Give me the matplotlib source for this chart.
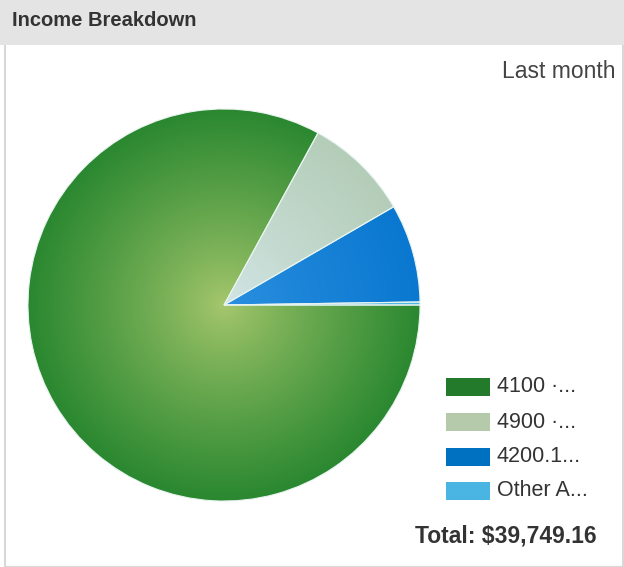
import numpy as np
import matplotlib
matplotlib.use('Agg')
import matplotlib.pyplot as plt
from matplotlib.patches import Rectangle
from matplotlib.colors import to_rgb

labels = ['4100 \u00b7...', '4900 \u00b7...', '4200.1...', 'Other A...']
values = [32975.40, 3453.80, 3221.50, 98.46]
colors = ['#2a8830', '#b4cdb8', '#0a78d0', '#4bb6e4']
legend_colors = ['#237a2b', '#b5caab', '#0070c0', '#4ab5e3']
center_colors = ['#a8c86e', '#d2e6e6', '#2c90e0', '#7ccaee']
title = 'Income Breakdown'
subtitle = 'Last month'
total_text = 'Total: $39,749.16'

plt.rcParams['font.family'] = ['Liberation Sans', 'DejaVu Sans']

W, H = 624, 567
fig = plt.figure(figsize=(W / 100, H / 100), dpi=100)

# panel frame and header bar (behind the axes)
fig.patches.append(Rectangle((5 / W, 0), (W - 6) / W, 1, transform=fig.transFigure,
                             facecolor='white', edgecolor='#d8d8d8', lw=1.5,
                             zorder=-2))
fig.patches.append(Rectangle((0, 1 - 45 / H), 1, 45 / H, transform=fig.transFigure,
                             facecolor='#e4e4e4', edgecolor='none', zorder=-1))
fig.text(12 / W, 1 - 20 / H, title, fontsize=14.5, fontweight='bold',
         color='#333333', va='center', ha='left')
fig.text(616 / W, 1 - 71 / H, subtitle, fontsize=16.5, color='#444444',
         va='center', ha='right')

# pie
cx, cy, r = 224, 305, 198
ax = fig.add_axes([(cx - r) / W, (H - cy - r) / H, 2 * r / W, 2 * r / H])
wedges, _ = ax.pie(values, colors=colors, startangle=0, counterclock=False,
                   radius=1, wedgeprops=dict(edgecolor='#e8f4f0', linewidth=0.8))
ax.set_aspect('equal')
ax.axis('off')

# radial shading, lighter in the middle
n = 400
g = np.linspace(-1, 1, n)
xx, yy = np.meshgrid(g, g)
rr = np.clip(np.hypot(xx, yy), 0, 1)[..., None]
for w, c0, c1 in zip(wedges, center_colors, colors):
    a = np.array(to_rgb(c0))
    b = np.array(to_rgb(c1))
    img = a + (b - a) * rr ** 0.85
    im = ax.imshow(img, extent=(-1, 1, -1, 1), origin='lower', zorder=1.5)
    im.set_clip_path(w)
    w.set_zorder(2)
    w.set_facecolor('none')
ax.set_xlim(-1.01, 1.01)
ax.set_ylim(-1.01, 1.01)

# legend
ys = [387, 422, 457, 491]
for y, lab, col in zip(ys, labels, legend_colors):
    fig.patches.append(Rectangle((446 / W, 1 - (y + 9) / H), 44 / W, 18 / H,
                                 transform=fig.transFigure, facecolor=col,
                                 edgecolor='none'))
    fig.text(497 / W, 1 - y / H, lab, fontsize=15.5, color='#333333',
             va='center', ha='left')

fig.text(597 / W, 1 - 536 / H, total_text, fontsize=16.5, fontweight='bold',
         color='#333333', va='center', ha='right')

fig.savefig('out.png', dpi=100)
